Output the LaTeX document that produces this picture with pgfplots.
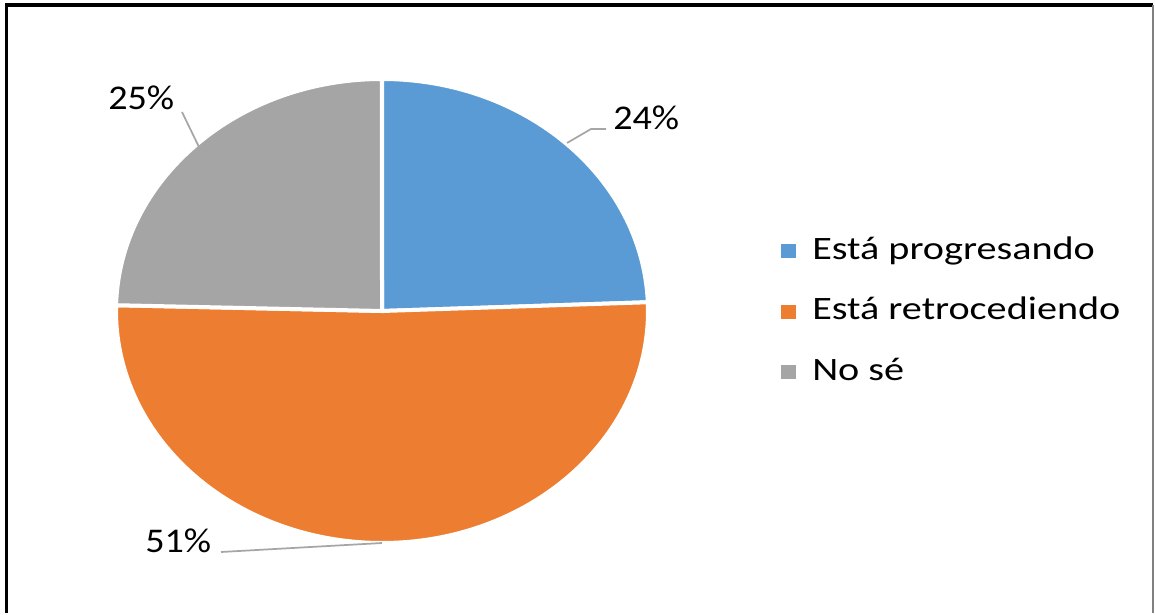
\documentclass[border=0pt]{standalone}
\usepackage{pgfplots}
\pgfplotsset{compat=1.18}
\usepackage{pgfplotstable}
\usepackage{fontspec}
\setmainfont{Carlito}[FakeStretch=1.23]
\newfontfamily\lblfont{Carlito}[FakeStretch=1.1]

\definecolor{cblue}{HTML}{5B9BD5}
\definecolor{corange}{HTML}{ED7D31}
\definecolor{cgray}{HTML}{A5A5A5}
\definecolor{cline}{HTML}{A6A6A6}

% share of answers, in percent
\pgfplotstableread{
label value
prog  24.4
retro 51.0
nose  24.6
}\piedata

\begin{document}
\begin{tikzpicture}
\pgfplotstablegetelem{0}{value}\of\piedata \let\va\pgfplotsretval
\pgfplotstablegetelem{1}{value}\of\piedata \let\vb\pgfplotsretval
\pgfplotstablegetelem{2}{value}\of\piedata \let\vc\pgfplotsretval
\pgfmathsetmacro\tot{\va+\vb+\vc}
\pgfmathsetmacro\aA{90-360*(\va/\tot)}
\pgfmathsetmacro\aB{\aA-360*(\vb/\tot)}
\pgfmathsetmacro\aC{\aB-360*(\vc/\tot)}
\pgfkeys{/pgf/number format/.cd, fixed, precision=0, assume math mode=true}
\begin{axis}[
    hide axis,
    scale only axis,
    x=0.75pt, y=0.75pt,
    xmin=0, xmax=1155, ymin=0, ymax=613,
    clip=false,
    legend style={draw=none, fill=none, inner sep=0pt,
        at={(axis cs:781,378)}, anchor=north west,
        font=\fontsize{24.5}{29}\selectfont,
        column sep=12pt, row sep=21.4pt,
        nodes={inner sep=0pt, text height=18pt, text depth=6pt},
        cells={anchor=west}},
    legend image code/.code={\fill[#1, draw=none] (0pt,-5.3pt) rectangle (11.25pt,5.3pt);},
  ]
  \path[fill=white] (axis cs:0,0) rectangle (axis cs:1155,613);
  % slices
  \fill[cblue, draw=white, line width=3pt] (axis cs:382,302) -- ++(90:199.5pt and 174pt)
     arc[start angle=90, end angle=\aA, x radius=199.5pt, y radius=174pt] -- cycle;
  \fill[corange, draw=white, line width=3pt] (axis cs:382,302) -- ++(\aA:199.5pt and 174pt)
     arc[start angle=\aA, end angle=\aB, x radius=199.5pt, y radius=174pt] -- cycle;
  \fill[cgray, draw=white, line width=3pt] (axis cs:382,302) -- ++(\aB:199.5pt and 174pt)
     arc[start angle=\aB, end angle=\aC, x radius=199.5pt, y radius=174pt] -- cycle;
  % data labels
  \draw[cline, line width=1.3pt] (axis cs:567,470) -- (axis cs:591,484) -- (axis cs:606,484);
  \node[anchor=base west, inner sep=0pt, font=\lblfont\fontsize{26}{30}\selectfont]
     at (axis cs:613,483) {\pgfmathprintnumber{\va}\%};
  \draw[cline, line width=1.3pt] (axis cs:199,466) -- (axis cs:182,501);
  \node[anchor=base west, inner sep=0pt, font=\lblfont\fontsize{26}{30}\selectfont]
     at (axis cs:108,503) {\pgfmathprintnumber{\vc}\%};
  \draw[cline, line width=1.3pt] (axis cs:221,61) -- (axis cs:382,70);
  \node[anchor=base west, inner sep=0pt, font=\lblfont\fontsize{26}{30}\selectfont]
     at (axis cs:145,61) {\pgfmathprintnumber{\vb}\%};
  \addlegendimage{fill=cblue}
  \addlegendentry{Está progresando}
  \addlegendimage{fill=corange}
  \addlegendentry{Está retrocediendo}
  \addlegendimage{fill=cgray}
  \addlegendentry{No sé}
  % frame
  \draw[black, line width=2.4pt] (axis cs:6.5,0) -- (axis cs:6.5,608) -- (axis cs:1153,608);
  \draw[gray, line width=0.9pt] (axis cs:1153,608) -- (axis cs:1153,0);
\end{axis}
\end{tikzpicture}
\end{document}
